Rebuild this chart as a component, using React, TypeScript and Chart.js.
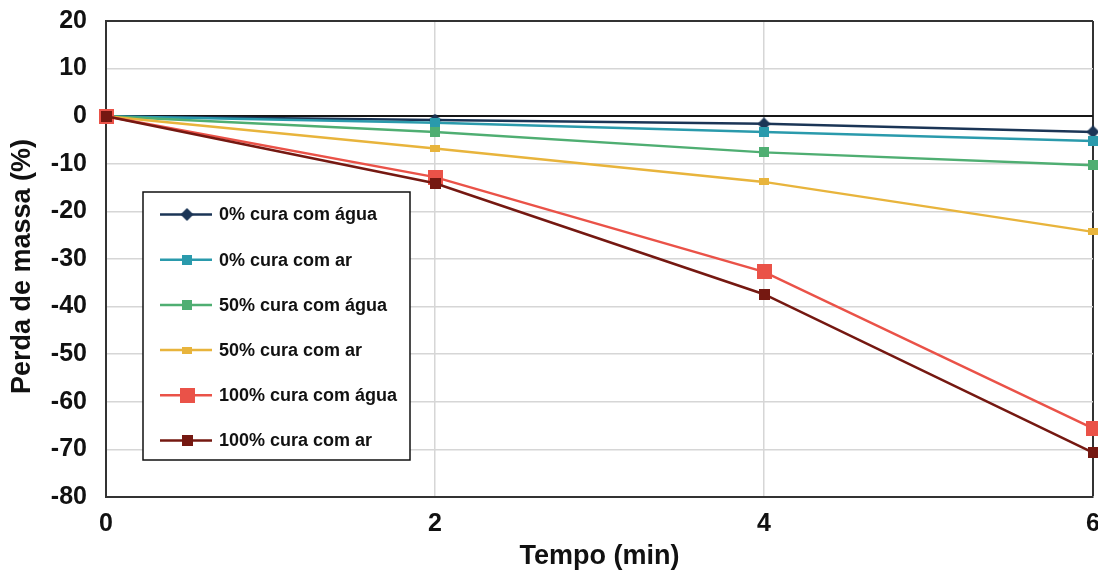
import React, { useEffect, useRef } from 'react';
import { Chart, registerables } from 'chart.js';

Chart.register(...registerables);

// ---- Data ----
const timeMin = [0, 2, 4, 6];
const xTicks = [0, 2, 4, 6];
const yTicks = [20, 10, 0, -10, -20, -30, -40, -50, -60, -70, -80];

const seriesNames = [
  '0% cura com água',
  '0% cura com ar',
  '50% cura com água',
  '50% cura com ar',
  '100% cura com água',
  '100% cura com ar',
];

const cura0Agua = [0, -0.8, -1.6, -3.3];
const cura0Ar = [0, -1.4, -3.3, -5.2];
const cura50Agua = [0, -3.3, -7.6, -10.3];
const cura50Ar = [0, -6.8, -13.8, -24.3];
const cura100Agua = [0, -12.8, -32.7, -65.6];
const cura100Ar = [0, -14.1, -37.4, -70.7];

const seriesValues = [cura0Agua, cura0Ar, cura50Agua, cura50Ar, cura100Agua, cura100Ar];

const seriesColors = ['#1b3556', '#2a9aac', '#4fae72', '#e8b43c', '#ea5248', '#751811'];
// marker: [shape, width, height]
const seriesMarkers: [string, number, number][] = [
  ['diamond', 13, 13],
  ['rect', 10, 10],
  ['rect', 10, 10],
  ['rect', 10, 7],
  ['rect', 15, 15],
  ['rect', 11, 11],
];

const FONT = '"Liberation Sans", Arial, Helvetica, sans-serif';

function makeMarker(shape: string, w: number, h: number, color: string): HTMLCanvasElement {
  const c = document.createElement('canvas');
  c.width = w;
  c.height = h;
  const g = c.getContext('2d')!;
  g.fillStyle = color;
  if (shape === 'diamond') {
    g.beginPath();
    g.moveTo(w / 2, 0);
    g.lineTo(w, h / 2);
    g.lineTo(w / 2, h);
    g.lineTo(0, h / 2);
    g.closePath();
    g.fill();
  } else {
    g.fillRect(0, 0, w, h);
  }
  return c;
}

const boxLegend = {
  id: 'boxLegend',
  afterDatasetsDraw(chart: any) {
    const { ctx, chartArea } = chart;
    const left = chartArea.left + 37;
    const top = chartArea.top + 171;
    const width = 267;
    const height = 268;
    ctx.save();
    ctx.fillStyle = '#ffffff';
    ctx.fillRect(left, top, width, height);
    ctx.strokeStyle = '#111111';
    ctx.lineWidth = 1.5;
    ctx.strokeRect(left, top, width, height);
    ctx.font = `bold 18px ${FONT}`;
    ctx.textBaseline = 'middle';
    ctx.textAlign = 'left';
    chart.data.datasets.forEach((ds: any, i: number) => {
      const y = top + 22.5 + i * 45.2;
      ctx.strokeStyle = ds.borderColor;
      ctx.lineWidth = 2.5;
      ctx.beginPath();
      ctx.moveTo(left + 17, y);
      ctx.lineTo(left + 69, y);
      ctx.stroke();
      const m: HTMLCanvasElement = ds.pointStyle;
      ctx.drawImage(m, left + 44 - m.width / 2, y - m.height / 2);
      ctx.fillStyle = '#111111';
      ctx.fillText(ds.label, left + 76, y + 1);
    });
    ctx.restore();
  },
};

export default function App() {
  const canvasRef = useRef<HTMLCanvasElement | null>(null);

  useEffect(() => {
    if (!canvasRef.current) return;
    const datasets = seriesNames.map((name, i) => {
      const [shape, w, h] = seriesMarkers[i];
      const marker = makeMarker(shape, w, h, seriesColors[i]);
      return {
        label: name,
        data: timeMin.map((t, j) => ({ x: t, y: seriesValues[i][j] })),
        borderColor: seriesColors[i],
        backgroundColor: seriesColors[i],
        borderWidth: 2.5,
        pointStyle: marker,
        pointRadius: 6,
        pointHoverRadius: 6,
        tension: 0,
        clip: false,
        order: seriesNames.length - i,
      };
    });

    const chart = new Chart(canvasRef.current, {
      type: 'line',
      data: { datasets },
      plugins: [boxLegend],
      options: {
        responsive: false,
        animation: false,
        layout: { padding: { left: 0, top: 21, right: 17, bottom: 0 } },
        plugins: {
          legend: { display: false },
          tooltip: { enabled: false },
        },
        scales: {
          x: {
            type: 'linear',
            min: 0,
            max: 6,
            afterBuildTicks: (scale: any) => {
              scale.ticks = xTicks.map((v) => ({ value: v }));
            },
            afterFit: (scale: any) => {
              scale.height = 77;
              scale.paddingLeft = 0;
              scale.paddingRight = 0;
            },
            ticks: {
              color: '#111111',
              font: { family: FONT, size: 25, weight: 'bold' },
              padding: 12,
              maxRotation: 0,
            },
            grid: {
              drawTicks: false,
              color: (c: any) => (c.tick && c.tick.value === 6 ? '#333333' : '#d6d6d6'),
              lineWidth: (c: any) => (c.tick && c.tick.value === 6 ? 2 : 1.5),
            },
            border: { display: true, color: '#333333', width: 2 },
            title: {
              display: true,
              text: 'Tempo (min)',
              color: '#111111',
              font: { family: FONT, size: 27, weight: 'bold' },
              padding: { top: 0, bottom: 1 },
            },
          },
          y: {
            type: 'linear',
            min: -80,
            max: 20,
            afterBuildTicks: (scale: any) => {
              scale.ticks = yTicks.map((v) => ({ value: v }));
            },
            afterFit: (scale: any) => {
              scale.width = 106;
              scale.paddingTop = 0;
              scale.paddingBottom = 0;
            },
            ticks: {
              color: '#111111',
              font: { family: FONT, size: 25, weight: 'bold' },
              padding: 19,
            },
            grid: {
              drawTicks: false,
              color: (c: any) => {
                const v = c.tick && c.tick.value;
                if (v === 0) return '#161616';
                if (v === 20) return '#333333';
                return '#d6d6d6';
              },
              lineWidth: (c: any) => {
                const v = c.tick && c.tick.value;
                return v === 0 || v === 20 ? 2 : 1.5;
              },
            },
            border: { display: true, color: '#333333', width: 2 },
            title: {
              display: true,
              text: 'Perda de massa (%)  ',
              color: '#111111',
              font: { family: FONT, size: 27, weight: 'bold' },
              padding: { top: 6, bottom: 0 },
            },
          },
        },
      } as any,
    });
    return () => chart.destroy();
  }, []);

  return (
    <div
      style={{
        position: 'fixed',
        top: 0,
        left: 0,
        width: 1098,
        height: 574,
        overflow: 'hidden',
        background: '#ffffff',
      }}
    >
      <canvas ref={canvasRef} width={1110} height={574} style={{ display: 'block' }} />
    </div>
  );
}
